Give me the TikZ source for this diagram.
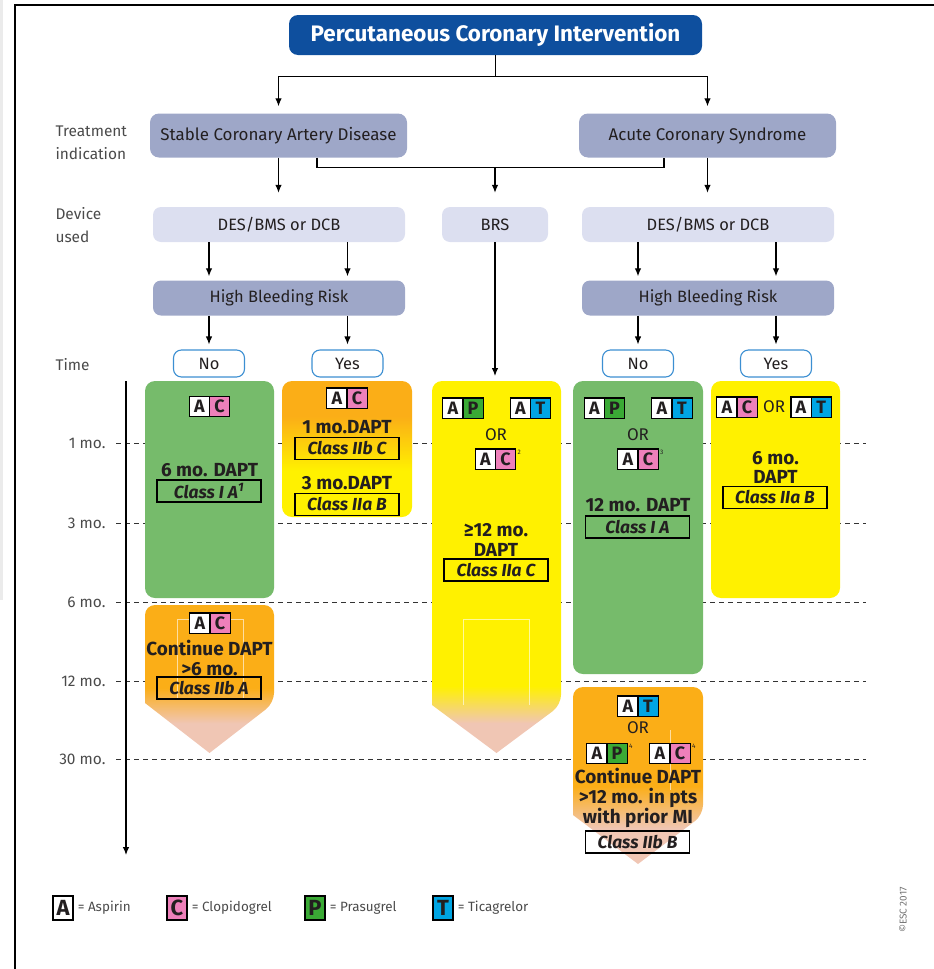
\documentclass[tikz,border=0pt]{standalone}
\usepackage{fontspec}
\setmainfont{Fira Sans}
\usetikzlibrary{arrows.meta, positioning, calc}

\definecolor{pciblue}{HTML}{0E4F9E}
\definecolor{indigray}{HTML}{9EA7C8}
\definecolor{devgray}{HTML}{DCDFF0}
\definecolor{boxgreen}{HTML}{76BB6B}
\definecolor{boxyellow}{HTML}{FFF100}
\definecolor{boxorange}{HTML}{FBAE17}
\definecolor{peach}{HTML}{F0C6B4}
\definecolor{drugC}{HTML}{EE80BA}
\definecolor{drugP}{HTML}{3AAA35}
\definecolor{drugT}{HTML}{00A5E3}
\definecolor{ynblue}{HTML}{3C8FD2}
\definecolor{inkdark}{HTML}{231F20}
\definecolor{sidegray}{HTML}{4A4A4A}

\pgfdeclareverticalshading{yesfade}{100bp}{color(0bp)=(boxyellow); color(42bp)=(boxyellow); color(62bp)=(boxorange); color(100bp)=(boxorange)}
\pgfdeclareverticalshading{contfade}{100bp}{color(0bp)=(peach); color(35bp)=(peach); color(47bp)=(boxorange); color(100bp)=(boxorange)}
\pgfdeclareverticalshading{brsfade}{100bp}{color(0bp)=(peach); color(29bp)=(peach); color(34bp)=(boxyellow); color(100bp)=(boxyellow)}

% one drug square, and the aspirin + second drug pair
\newcommand{\drugcell}[2]{\fcolorbox{black}{#1}{\makebox[19bp]{\rule[-3.5bp]{0pt}{19bp}#2}}}
\newcommand{\drugpair}[2]{{\setlength{\fboxsep}{0pt}\setlength{\fboxrule}{1.1bp}\drugcell{white}{A}\hspace{-1.1bp}\drugcell{#1}{#2}}}
\newcommand{\fnmark}[1]{\rlap{\raisebox{11bp}{\hspace{1.5bp}\fontsize{6.5}{6.5}\selectfont\mdseries #1}}}

\begin{document}
\begin{tikzpicture}[
  x=1bp, y=-1bp,
  every node/.style={text=inkdark},
  title/.style={
    rectangle,
    rounded corners=9bp,
    fill=pciblue,
    text=white,
    font=\bfseries\fontsize{22.5}{24}\selectfont,
    minimum width=413bp,
    minimum height=40bp
  },
  indic/.style={
    rectangle,
    rounded corners=9bp,
    fill=indigray,
    font=\fontsize{17}{19}\selectfont,
    minimum width=257bp,
    minimum height=44bp
  },
  device/.style={
    rectangle,
    rounded corners=8bp,
    fill=devgray,
    font=\fontsize{16.5}{19}\selectfont,
    minimum width=252bp,
    minimum height=35bp
  },
  risk/.style={device, fill=indigray},
  choice/.style={
    rectangle,
    rounded corners=8bp,
    draw=ynblue,
    line width=1.1bp,
    fill=white,
    inner sep=0pt,
    font=\fontsize{16.5}{19}\selectfont,
    minimum width=71bp,
    minimum height=27bp
  },
  panel/.style={rectangle, rounded corners=10bp, inner sep=0pt, minimum width=129bp},
  side/.style={anchor=west, align=left, text=sidegray, font=\fontsize{15.5}{23}\selectfont},
  tick/.style={anchor=east, text=sidegray, font=\fontsize{15.5}{17}\selectfont},
  badge/.style={inner sep=0pt, font=\bfseries\fontsize{18}{18}\selectfont},
  dapt/.style={align=center, inner sep=0pt, font=\bfseries\fontsize{19}{20}\selectfont},
  orword/.style={inner sep=0pt, font=\fontsize{17}{17}\selectfont},
  cls/.style={
    draw,
    line width=1.2bp,
    inner sep=0pt,
    minimum width=104bp,
    minimum height=22bp,
    font=\bfseries\itshape\fontsize{17.5}{17.5}\selectfont
  },
  legbadge/.style={draw, line width=1.1bp, inner sep=0pt, minimum width=20bp, minimum height=24bp,
    font=\bfseries\fontsize{22}{22}\selectfont},
  legtext/.style={inner sep=0pt, text=sidegray, font=\fontsize{13.5}{15}\selectfont},
  monthline/.style={line width=0.9bp, draw=black!80, dash pattern=on 5bp off 4bp},
  ghost/.style={draw=white, line width=0.6bp, opacity=0.6},
  link/.style={line width=1.1bp},
  arrow/.style={-{Latex[length=8bp, width=6.5bp]}, line width=1.1bp}
]
\useasboundingbox (0,0) rectangle (934,969);

% ============================================================
% Frame
% ============================================================

\fill[black!8] (0,0) rectangle (3,600);
\draw[line width=1.4bp] (934,5) -- (15,5) -- (15,969);

% ============================================================
% Indication, device and bleeding risk
% ============================================================

\node[title] (pci) at (495.5,35) {Percutaneous Coronary Intervention};

\node[indic] (scad) at (278.5,135.5) {Stable Coronary Artery Disease};
\node[indic] (acs) at (707.5,135.5) {Acute Coronary Syndrome};
\node[side] (lbltreat) at (52,143) {Treatment\\indication};

\draw[arrow, shorten >=7bp] (pci.south) -- ++(0,21) -| (scad.north);
\draw[arrow, shorten >=7bp] (pci.south) ++(0,21) -| (acs.north);

\node[device] (des1) at (279,224.5) {DES/BMS or DCB};
\node[device, minimum width=106bp] (brs) at (495,224.5) {BRS};
\node[device] (des2) at (708,224.5) {DES/BMS or DCB};
\node[side] (lbldevice) at (52,225.5) {Device\\used};

\draw[arrow, shorten >=14bp] (scad.south) -- (scad.south |- des1.north);
\draw[arrow, shorten >=14bp] (acs.south) -- (acs.south |- des2.north);
\draw[link] ($(scad.south)+(38.5,0)$) -- ++(0,10) coordinate (mid) -| ($(acs.south)+(-43.5,0)$);
\draw[arrow, shorten >=14bp] (mid -| brs.north) -- (brs.north);

\node[risk] (hbr1) at (279,298) {High Bleeding Risk};
\node[risk] (hbr2) at (708,298) {High Bleeding Risk};

\node[choice] (no1) at (209,363.5) {No};
\node[choice] (yes1) at (347.5,363.5) {Yes};
\node[choice] (no2) at (638,363.5) {No};
\node[choice] (yes2) at (776,363.5) {Yes};
\node[side] (lbltime) at (52,365) {Time};

\foreach \c/\d/\h in {no1/des1/hbr1, yes1/des1/hbr1, no2/des2/hbr2, yes2/des2/hbr2} {
  \draw[arrow, shorten >=4bp] (\d.south -| \c) -- (\h.north -| \c);
  \draw[arrow, shorten >=5bp] (\h.south -| \c) -- (\c.north);
}

% ============================================================
% Time axis
% ============================================================

\coordinate (tstart) at (126,381);
\coordinate (tend) at (126,855);
\foreach \y/\m in {443/1, 523/3, 602/6, 681/12, 759/30} {
  \node[tick] (m\m) at (109,\y) {\m\ mo.};
  \draw[monthline] (116,\y) -- (866,\y);
}
\draw[arrow] (tstart) -- (tend);

% ============================================================
% Treatment panels
% ============================================================

\node[panel, fill=boxgreen, minimum height=217bp] (scadno) at (209.5,489.5) {};
\node[panel, shade, shading=yesfade, minimum width=130bp, minimum height=136bp] (scadyes) at (347,449) {};
\node[panel, fill=boxgreen, minimum width=130bp, minimum height=293bp] (acsno) at (638,527.5) {};
\node[panel, fill=boxyellow, minimum height=217bp] (acsyes) at (775.5,489.5) {};

% arrow shaped panels
\coordinate (brsbox) at (496.5,381);
\shade[shading=brsfade, rounded corners=10bp] (432,705) -- (432,381) -- (561,381) -- (561,705) [sharp corners] -- (496.5,753) -- cycle;
\shade[shading=contfade, rounded corners=10bp] (145,703) -- (145,605) -- (274,605) -- (274,703) [sharp corners] -- (209.5,753) -- cycle;
\shade[shading=contfade, rounded corners=10bp] (573,815) -- (573,687) -- (703,687) -- (703,815) [sharp corners] -- (638,864) -- cycle;

\draw[ghost] (463,705) -- (463,619) -- (529,619) -- (529,705);
\draw[ghost] (177,700) -- (177,619) -- (243,619) -- (243,700);
\draw[ghost] (670,730) -- (670,790);

\draw[arrow, shorten >=5bp] (brs.south) -- (brs.south |- brsbox);

% SCAD, no high bleeding risk
\node[badge] (scadno-ac) at (209.5,406.5) {\drugpair{drugC}{C}};
\node[dapt] (scadno-dapt) at (209.5,470) {6 mo. DAPT};
\node[cls] (scadno-cls) at (209,491) {Class I A\textsuperscript{1}};

% SCAD, high bleeding risk
\node[badge] (scadyes-ac) at (347,398) {\drugpair{drugC}{C}};
\node[dapt] (scadyes-dapt1) at (347,427) {1 mo.DAPT};
\node[cls] (scadyes-cls1) at (347,448.5) {Class IIb C};
\node[dapt] (scadyes-dapt3) at (347,483) {3 mo.DAPT};
\node[cls] (scadyes-cls3) at (347,504.5) {Class IIa B};

% BRS
\node[badge] (brs-ap) at (463,408) {\drugpair{drugP}{P}};
\node[badge] (brs-at) at (530.5,408) {\drugpair{drugT}{T}};
\node[orword] (brs-or) at (496,435) {OR};
\node[badge] (brs-ac) at (495.5,459) {\drugpair{drugC}{C}\fnmark{2}};
\node[dapt] (brs-dapt) at (496,539.5) {≥12 mo.\\DAPT};
\node[cls] (brs-cls) at (496,570) {Class IIa C};

% ACS, no high bleeding risk
\node[badge] (acsno-ap) at (604.5,408) {\drugpair{drugP}{P}};
\node[badge] (acsno-at) at (672,408) {\drugpair{drugT}{T}};
\node[orword] (acsno-or) at (638,435) {OR};
\node[badge] (acsno-ac) at (638,459) {\drugpair{drugC}{C}\fnmark{3}};
\node[dapt] (acsno-dapt) at (638,505) {12 mo. DAPT};
\node[cls] (acsno-cls) at (637.5,527) {Class I A};

% ACS, high bleeding risk
\node[badge] (acsyes-ac) at (737,407) {\drugpair{drugC}{C}};
\node[orword, right=5bp of acsyes-ac] (acsyes-or) {OR};
\node[badge, right=5bp of acsyes-or] (acsyes-at) {\drugpair{drugT}{T}};
\node[dapt] (acsyes-dapt) at (775.5,467.5) {6 mo.\\DAPT};
\node[cls] (acsyes-cls) at (775,497.5) {Class IIa B};

% SCAD, continued
\node[badge] (scadcont-ac) at (210,623) {\drugpair{drugC}{C}};
\node[dapt] (scadcont-dapt) at (209.5,658) {Continue DAPT\\>6 mo.};
\node[cls] (scadcont-cls) at (209,688) {Class IIb A};

% ACS, continued
\node[badge] (acscont-at) at (638,706) {\drugpair{drugT}{T}};
\node[orword] (acscont-or) at (638,728) {OR};
\node[badge] (acscont-ap) at (607,753.5) {\drugpair{drugP}{P}\fnmark{4}};
\node[badge] (acscont-ac) at (670,753.5) {\drugpair{drugC}{C}\fnmark{4}};
\node[dapt] (acscont-dapt) at (638,798) {Continue DAPT\\>12 mo. in pts\\with prior MI};
\node[cls] (acscont-cls) at (637.5,842) {Class IIb B};

% ============================================================
% Legend
% ============================================================

\foreach \x/\l/\c/\t in {63/A/white/Aspirin, 177/C/drugC/Clopidogrel, 315/P/drugP/Prasugrel, 443/T/drugT/Ticagrelor} {
  \node[legbadge, fill=\c] (leg\l) at (\x,908) {\l};
  \node[legtext, right=4bp of leg\l] (leg\l-txt) {= \t};
}

\node[rotate=90, text=black!55, font=\fontsize{10}{11}\selectfont] (esc) at (903,910) {\textcopyright ESC 2017};

\end{tikzpicture}
\end{document}
